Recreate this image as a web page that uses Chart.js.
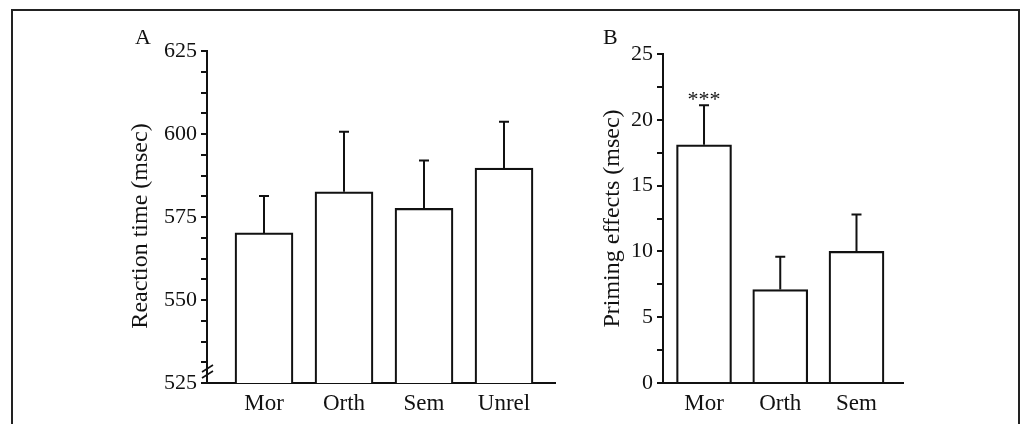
<!DOCTYPE html>
<html>
<head>
<meta charset="utf-8">
<script src="https://cdn.jsdelivr.net/npm/chart.js@4.4.1/dist/chart.umd.min.js"></script>
<style>
  html, body { margin: 0; padding: 0; background: #fff; }
  #wrap { position: relative; width: 1026px; height: 424px; overflow: hidden; background: #fff; }
  #frame { position: absolute; left: 11px; top: 9px; width: 1005px; height: 440px; border: 2px solid #222; }
  canvas { position: absolute; left: 0; top: 0; }
</style>
</head>
<body>
<div id="wrap">
  <div id="frame"></div>
  <canvas id="cA" width="1026" height="424"></canvas>
  <canvas id="cB" width="1026" height="424"></canvas>
</div>
<script>
// ---- Data ----
const categoriesA = ['Mor', 'Orth', 'Sem', 'Unrel'];
const reactionTime = [570.2, 582.6, 577.6, 589.7];
const reactionTimeErrTop = [581.3, 600.7, 592.0, 603.7];

const categoriesB = ['Mor', 'Orth', 'Sem'];
const priming = [18.1, 7.1, 10.0];
const primingErrTop = [21.1, 9.6, 12.8];
const significance = ['***', '', ''];

const yTicksA = [525, 550, 575, 600, 625];
const yTicksB = [0, 5, 10, 15, 20, 25];

const FONT = '"Liberation Serif", "Times New Roman", serif';
Chart.defaults.font.family = FONT;
Chart.defaults.color = '#111';

function minorTicks(majors, parts) {
  const out = [];
  for (let i = 0; i < majors.length; i++) {
    out.push({ value: majors[i], major: true });
    if (i < majors.length - 1) {
      const step = (majors[i + 1] - majors[i]) / parts;
      for (let k = 1; k < parts; k++) out.push({ value: majors[i] + k * step });
    }
  }
  return out;
}

function errorBarPlugin(errTops, labels, breakMark, letter, letterX) {
  return {
    id: 'extras' + letter,
    afterDatasetsDraw(chart) {
      const ctx = chart.ctx;
      const xs = chart.scales.x, ys = chart.scales.y;
      const vals = chart.data.datasets[0].data;
      ctx.save();
      ctx.strokeStyle = '#111';
      ctx.lineWidth = 2;
      vals.forEach((d, i) => {
        const x = xs.getPixelForValue(d.x);
        const y0 = ys.getPixelForValue(d.y);
        const y1 = ys.getPixelForValue(errTops[i]);
        ctx.beginPath();
        ctx.moveTo(x, y0);
        ctx.lineTo(x, y1);
        ctx.moveTo(x - 5, y1);
        ctx.lineTo(x + 5, y1);
        ctx.stroke();
        if (labels && labels[i]) {
          ctx.fillStyle = '#111';
          ctx.font = '22px ' + FONT;
          ctx.textAlign = 'center';
          ctx.textBaseline = 'alphabetic';
          ctx.fillText(labels[i], x, y1 + 1);
        }
      });
      if (breakMark) {
        const ax = chart.chartArea.left;
        const yb = chart.chartArea.bottom;
        ctx.lineWidth = 1.6;
        ctx.beginPath();
        ctx.moveTo(ax - 5, yb - 11);
        ctx.lineTo(ax + 6, yb - 18);
        ctx.moveTo(ax - 5, yb - 5);
        ctx.lineTo(ax + 6, yb - 12);
        ctx.stroke();
      }
      ctx.fillStyle = '#111';
      ctx.font = '22px ' + FONT;
      ctx.textAlign = 'left';
      ctx.textBaseline = 'alphabetic';
      ctx.fillText(letter, letterX, 44);
      ctx.restore();
    }
  };
}

function makeChart(id, cats, values, errTops, sig, majors, parts, cfg) {
  return new Chart(document.getElementById(id), {
    type: 'bar',
    data: {
      datasets: [{
        data: values.map((v, i) => ({ x: i, y: v })),
        backgroundColor: '#fff',
        borderColor: '#111',
        borderWidth: 2.2,
        barThickness: cfg.barW
      }]
    },
    options: {
      responsive: false,
      animation: false,
      devicePixelRatio: 1,
      layout: { padding: { left: cfg.padLeft, right: cfg.padRight, top: cfg.padTop, bottom: 0 } },
      plugins: { legend: { display: false }, tooltip: { enabled: false } },
      scales: {
        x: {
          type: 'linear',
          offset: false,
          min: cfg.xMin,
          max: cfg.xMax,
          grid: { display: false, drawTicks: false, offset: false },
          border: { display: true, color: '#111', width: 2 },
          afterBuildTicks: (s) => { s.ticks = cats.map((c, i) => ({ value: i })); },
          afterFit: (s) => { s.height = 424 - cfg.bottom; },
          ticks: {
            autoSkip: false,
            maxRotation: 0,
            padding: 7,
            font: { size: 23 },
            color: '#111',
            callback: (v) => cats[v] !== undefined ? cats[v] : ''
          }
        },
        y: {
          min: majors[0],
          max: majors[majors.length - 1],
          grid: { drawOnChartArea: false, drawTicks: true, tickLength: 6, color: '#111', lineWidth: 2 },
          border: { display: true, color: '#111', width: 2 },
          afterBuildTicks: (s) => { s.ticks = minorTicks(majors, parts); },
          afterFit: (s) => { s.width = cfg.axisX - cfg.padLeft; },
          ticks: {
            autoSkip: false,
            padding: 4,
            font: { size: 22 },
            color: '#111',
            callback: (v) => majors.includes(v) ? String(v) : ''
          },
          title: {
            display: true,
            text: cfg.title,
            font: { size: 24 },
            color: '#111',
            padding: 0
          }
        }
      }
    },
    plugins: [errorBarPlugin(errTops, sig, cfg.breakMark, cfg.letter, cfg.letterX)]
  });
}

makeChart('cA', categoriesA, reactionTime, reactionTimeErrTop, null, yTicksA, 4, {
  barW: 58, padLeft: 126, padRight: 1026 - 555, padTop: 51, bottom: 383,
  axisX: 207, xMin: -0.7125, xMax: 3.6375, title: 'Reaction time (msec)   ',
  breakMark: true, letter: 'A', letterX: 135
});

makeChart('cB', categoriesB, priming, primingErrTop, significance, yTicksB, 2, {
  barW: 55, padLeft: 598, padRight: 1026 - 903, padTop: 54, bottom: 383,
  axisX: 663, xMin: -0.538, xMax: 2.61, title: 'Priming effects (msec)',
  breakMark: false, letter: 'B', letterX: 603
});
</script>
</body>
</html>
